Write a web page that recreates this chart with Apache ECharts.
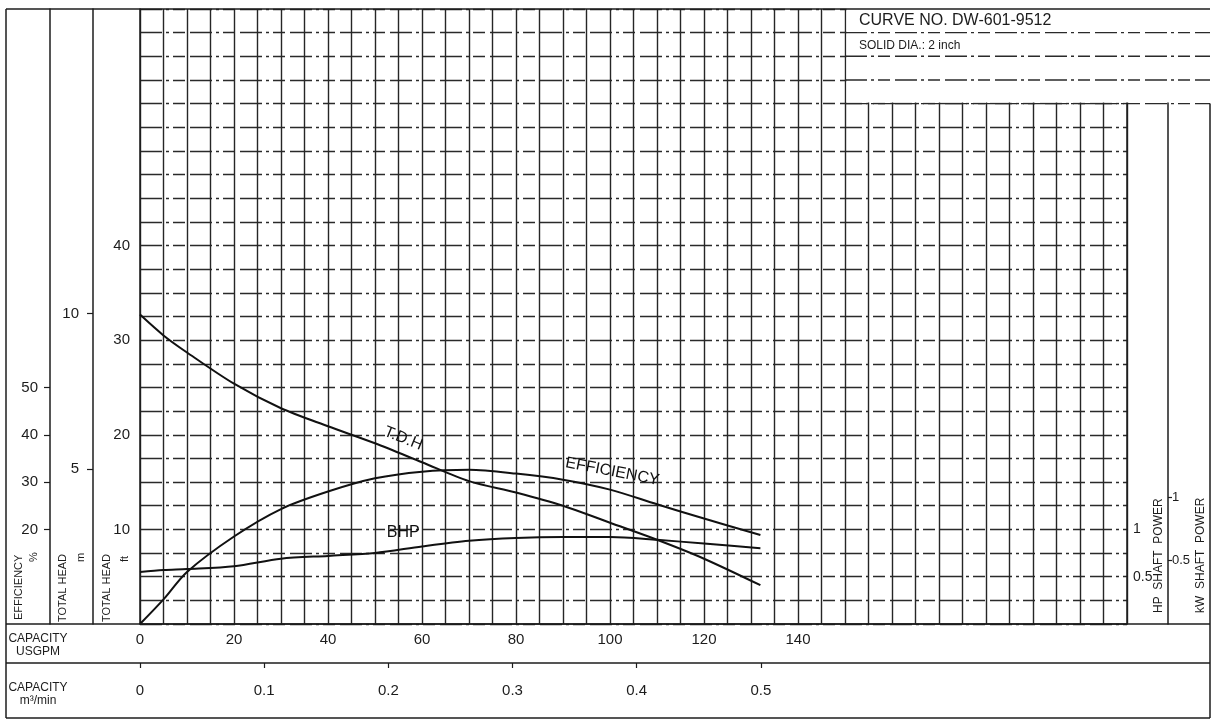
<!DOCTYPE html>
<html>
<head>
<meta charset="utf-8">
<script src="https://cdn.jsdelivr.net/npm/echarts@6/dist/echarts.min.js"></script>
<style>
  html, body { margin: 0; padding: 0; background: #fff; }
  #chart { width: 1212px; height: 721px; }
</style>
</head>
<body>
<div id="chart"></div>
<script>
// Capacity (US GPM) at which the performance curves are tabulated
const capacityGpm = [0, 5, 10, 20, 30, 40, 50, 60, 70, 80, 90, 100, 110, 120, 132];
// Total dynamic head, ft
const tdhFt = [32.7, 30.5, 28.7, 25.4, 22.8, 20.9, 19.1, 17.1, 15.1, 13.9, 12.5, 10.7, 8.9, 6.9, 4.1];
// Pump efficiency, %
const efficiencyPct = [0, 5.2, 11.0, 18.5, 24.3, 28.0, 30.8, 32.2, 32.6, 31.8, 30.5, 28.4, 25.3, 22.3, 18.8];
// Brake horsepower, HP
const bhpHp = [0.55, 0.57, 0.58, 0.61, 0.69, 0.72, 0.75, 0.82, 0.88, 0.91, 0.92, 0.92, 0.89, 0.85, 0.80];

// Tick labels of each scale
const gpmTicks = [0, 20, 40, 60, 80, 100, 120, 140];
const m3Ticks = [0, 0.1, 0.2, 0.3, 0.4, 0.5];
const headFtTicks = [10, 20, 30, 40];
const headMTicks = [5, 10];
const effTicks = [20, 30, 40, 50];
const hpTicks = [0.5, 1];
const kwTicks = [0.5, 1];

// Scale extents: every secondary scale is tied to the head (ft) / capacity (GPM) grid
const GPM_MAX = 210;
const FT_MAX = 65;
const M3_PER_GPM = 0.00378541;
const M_PER_FT = 0.3048;
const PCT_PER_FT = 2;
const HP_PER_FT = 0.1;
const KW_PER_HP = 0.7457;

const INK = '#1c1c1c';
const FONT = 'Liberation Sans';

const chart = echarts.init(document.getElementById('chart'), null, { renderer: 'canvas' });

function pairs(ys) { return capacityGpm.map((q, i) => [q, ys[i]]); }

const labelBase = { color: INK, fontFamily: FONT, fontSize: 15 };

function sideAxis(opts) {
  return Object.assign({
    type: 'value',
    min: 0,
    splitLine: { show: false },
    axisLine: { show: true, onZero: false, lineStyle: { color: INK, width: 1.5 } },
    axisTick: { show: false },
    axisLabel: Object.assign({}, labelBase)
  }, opts);
}

const curveLine = { color: '#111', width: 2 };

const option = {
  animation: false,
  backgroundColor: '#fff',
  grid: { left: 140, right: 85, top: 9, bottom: 97 },
  xAxis: [
    {
      type: 'value', min: 0, max: GPM_MAX, interval: 5,
      position: 'bottom',
      axisLine: { show: true, onZero: false, lineStyle: { color: INK, width: 1.5 } },
      axisTick: { show: false },
      splitLine: { show: true, lineStyle: { color: '#262626', width: 1.4 } },
      axisLabel: Object.assign({}, labelBase, { customValues: gpmTicks, margin: 8 })
    },
    {
      type: 'value', min: 0, max: GPM_MAX * M3_PER_GPM,
      position: 'bottom', offset: 39,
      axisLine: { show: false, onZero: false },
      axisTick: { show: true, customValues: m3Ticks, length: 5, lineStyle: { color: INK, width: 1.2 } },
      splitLine: { show: false },
      axisLabel: Object.assign({}, labelBase, { customValues: m3Ticks, margin: 20 })
    }
  ],
  yAxis: [
    // Total head, ft
    sideAxis({
      max: FT_MAX, interval: 2.5, position: 'left', offset: 0,
      splitLine: { show: true, lineStyle: { color: '#2a2a2a', width: 1.4, type: [22, 4, 3, 4, 12, 5] } },
      axisLabel: Object.assign({}, labelBase, { customValues: headFtTicks, margin: 10 })
    }),
    // Total head, m
    sideAxis({
      max: FT_MAX * M_PER_FT, position: 'left', offset: 47,
      axisTick: { show: true, customValues: headMTicks, length: 6, lineStyle: { color: INK, width: 1.2 } },
      axisLabel: Object.assign({}, labelBase, { customValues: headMTicks, margin: 14 })
    }),
    // Efficiency, %
    sideAxis({
      max: FT_MAX * PCT_PER_FT, position: 'left', offset: 90,
      axisTick: { show: true, customValues: effTicks, length: 6, lineStyle: { color: INK, width: 1.2 } },
      axisLabel: Object.assign({}, labelBase, { customValues: effTicks, margin: 12 })
    }),
    // Shaft power, HP
    sideAxis({
      max: FT_MAX * HP_PER_FT, position: 'right', offset: 0,
      axisLabel: Object.assign({}, labelBase, { customValues: hpTicks, margin: 6, fontSize: 14 })
    }),
    // Shaft power, kW
    sideAxis({
      max: FT_MAX * HP_PER_FT * KW_PER_HP, position: 'right', offset: 41,
      axisTick: { show: true, customValues: kwTicks, length: 4, lineStyle: { color: INK, width: 1.2 } },
      axisLabel: Object.assign({}, labelBase, { customValues: kwTicks, margin: 4, fontSize: 13 })
    })
  ],
  series: [
    {
      name: 'T.D.H', type: 'line', xAxisIndex: 0, yAxisIndex: 0,
      data: pairs(tdhFt), smooth: 0.3, symbol: 'none',
      lineStyle: curveLine, z: 5,
      markPoint: {
        symbol: 'circle', symbolSize: 0, silent: true,
        label: { show: true, position: 'inside', formatter: 'T.D.H', rotate: -22,
                 color: '#111', fontFamily: FONT, fontSize: 16 },
        data: [{ coord: [56, 19.6] }]
      }
    },
    {
      name: 'EFFICIENCY', type: 'line', xAxisIndex: 0, yAxisIndex: 2,
      data: pairs(efficiencyPct), smooth: 0.3, symbol: 'none',
      lineStyle: curveLine, z: 5,
      markPoint: {
        symbol: 'circle', symbolSize: 0, silent: true,
        label: { show: true, position: 'inside', formatter: 'EFFICIENCY', rotate: -11,
                 color: '#111', fontFamily: FONT, fontSize: 16 },
        data: [{ coord: [100.5, 32.2] }]
      }
    },
    {
      name: 'BHP', type: 'line', xAxisIndex: 0, yAxisIndex: 3,
      data: pairs(bhpHp), smooth: 0.3, symbol: 'none',
      lineStyle: curveLine, z: 5,
      markPoint: {
        symbol: 'circle', symbolSize: 0, silent: true,
        label: { show: true, position: 'inside', formatter: 'BHP',
                 color: '#111', fontFamily: FONT, fontSize: 16 },
        data: [{ coord: [56, 0.97] }]
      }
    }
  ]
};

chart.setOption(option);

// Frame, title block and scale captions, laid out from the grid's own scales
function px(q, h) { return chart.convertToPixel({ xAxisIndex: 0, yAxisIndex: 0 }, [q, h]); }
const xBlock = px(150, 0)[0];
const yBlock = px(0, 55)[1];
const yTop = px(0, FT_MAX)[1];
const yBase = px(0, 0)[1];
const yM3 = yBase + 39;
const X_LEFT = 6, X_RIGHT = 1210, Y_FOOT = 718;

const solid = { stroke: INK, lineWidth: 1.5 };
const dashed = { stroke: '#2a2a2a', lineWidth: 1.4, lineDash: [22, 4, 3, 4, 12, 5] };

function hline(y, x1, x2, style) {
  return { type: 'line', z: 60, silent: true, shape: { x1: x1, y1: y, x2: x2, y2: y }, style: style };
}
function vline(x, y1, y2, style) {
  return { type: 'line', z: 60, silent: true, shape: { x1: x, y1: y1, x2: x, y2: y2 }, style: style };
}
function text(str, x, y, size, extra) {
  return Object.assign({
    type: 'text', z: 70, silent: true, x: x, y: y,
    style: { text: str, fill: INK, font: size + 'px "' + FONT + '"', align: 'left', verticalAlign: 'middle', lineHeight: 13 }
  }, extra || {});
}
function centered(str, x, y, size) {
  const t = text(str, x, y, size);
  t.style.align = 'center';
  return t;
}
function vtext(str, x, y, size) {
  // reads bottom to top, starting at (x, y)
  return text(str, x, y, size, { rotation: Math.PI / 2 });
}

const graphics = [
  // blank title block in the upper right corner
  { type: 'rect', z: 50, silent: true,
    shape: { x: xBlock + 1.5, y: 0, width: 1212 - xBlock, height: yBlock - 1 },
    style: { fill: '#fff' } },
  hline(yBlock, xBlock, X_RIGHT, dashed),
  hline(px(0, 57.5)[1], xBlock, X_RIGHT, dashed),
  hline(px(0, 60)[1], xBlock, X_RIGHT, dashed),
  hline(px(0, 62.5)[1], xBlock, X_RIGHT, dashed),
  hline(yTop, X_LEFT, X_RIGHT, solid),
  // outer frame and capacity rows
  vline(X_LEFT, yTop, Y_FOOT, solid),
  vline(X_RIGHT, yBlock, Y_FOOT, solid),
  hline(yBase, X_LEFT, X_RIGHT, solid),
  hline(yM3, X_LEFT, X_RIGHT, solid),
  hline(Y_FOOT, X_LEFT, X_RIGHT, solid),
  // title block text
  text('CURVE NO. DW-601-9512', xBlock + 14, 21, 16),
  text('SOLID DIA.: 2 inch', xBlock + 14, 46, 12),
  // capacity row captions
  centered('CAPACITY\nUSGPM', 38, 645, 12),
  centered('CAPACITY\nm³/min', 38, 694, 12),
  // side scale captions
  vtext('EFFICIENCY', 19, 620, 11),
  vtext('%', 34, 562, 11),
  vtext('TOTAL HEAD', 63, 622, 11),
  vtext('m', 81, 562, 11),
  vtext('TOTAL HEAD', 107, 622, 11),
  vtext('ft', 125, 562, 11),
  vtext('HP  SHAFT  POWER', 1159, 613, 12),
  vtext('kW  SHAFT  POWER', 1201, 613, 12)
];

chart.setOption({ graphic: graphics });
</script>
</body>
</html>
